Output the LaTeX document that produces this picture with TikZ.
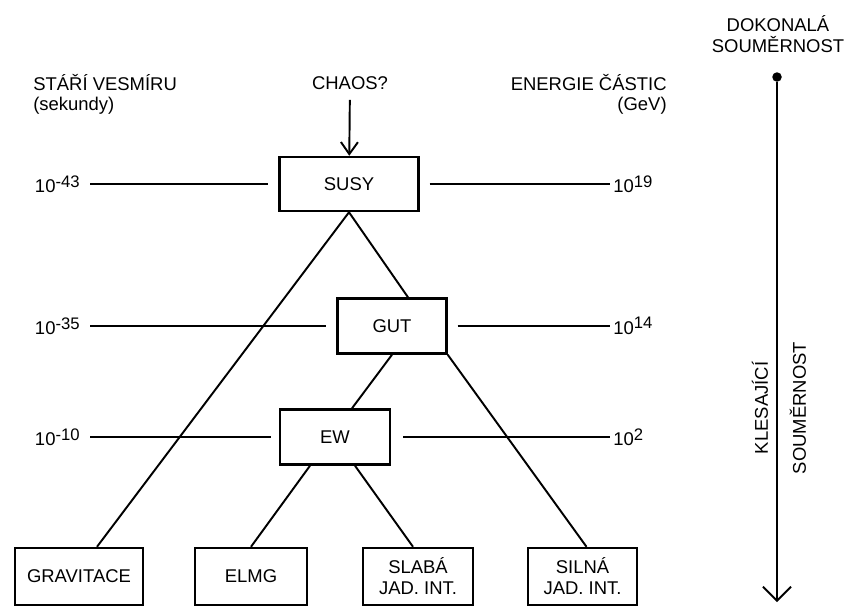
\documentclass[tikz,border=0pt]{standalone}
\usepackage{fontspec}
\setmainfont{Liberation Sans}
\usetikzlibrary{positioning,calc,arrows.meta}

\tikzstyle{forcebox}=[rectangle, draw=black, line width=1.4pt, inner sep=0pt, text centered, align=center, minimum height=11mm]
\tikzstyle{lab}=[inner sep=0pt, align=center]
\tikzstyle{line}=[-, line width=1.1pt]
\tikzstyle{hline}=[-, line width=1.1pt, shorten <=2mm, shorten >=2mm]
\tikzstyle{dot}=[circle, fill=black, inner sep=0pt, minimum size=1.9mm]
\newcommand{\tenpow}[1]{10\raisebox{.55ex}{\fontsize{9.5}{9.5}\selectfont #1}}

\begin{document}
\begin{tikzpicture}[x=0.2mm, y=-0.2mm, font=\fontsize{10.5}{12}\selectfont]
\useasboundingbox (0,0) rectangle (848,605);

% headings
\node (age) [lab, anchor=west] at (33,83) {STÁŘÍ VESMÍRU};
\node (sek) [lab, below=1mm of age.south west, anchor=north west] {(sekundy)};
\node (chaos) [lab] at (350,83) {CHAOS?};
\node (ener) [lab, anchor=east] at (667,83) {ENERGIE ČÁSTIC};
\node (gev) [lab, below=1mm of ener.south east, anchor=north east] {(GeV)};

% unified theories
\node (susy) [forcebox, minimum width=27.8mm, minimum height=10.8mm] at (349,184) {SUSY};
\node (gut) [forcebox, minimum width=21.8mm] at (392,326) {GUT};
\node (ew) [forcebox, minimum width=22mm] at (335,437) {EW};

% the four forces
\node (grav) [forcebox, minimum width=25.6mm, minimum height=11.4mm] at (79,576.5) {GRAVITACE};
\node (elmg) [forcebox, minimum width=22.4mm, minimum height=11.4mm] at (251,576.5) {ELMG};
\node (slaba) [forcebox, minimum width=22mm, minimum height=11.4mm] at (418,576.5) {SLABÁ\\JAD. INT.};
\node (silna) [forcebox, minimum width=21.8mm, minimum height=11.4mm] at (582.5,576.5) {SILNÁ\\JAD. INT.};

% time / energy scale
\node (t43) [lab, anchor=east] at (80,184) {\tenpow{-43}};
\node (t35) [lab, anchor=east] at (80,326) {\tenpow{-35}};
\node (t10) [lab, anchor=east] at (80,437) {\tenpow{-10}};
\node (e19) [lab, anchor=west] at (613,184) {\tenpow{19}};
\node (e14) [lab, anchor=west] at (613,326) {\tenpow{14}};
\node (e2) [lab, anchor=west] at (613,437) {\tenpow{2}};

\draw[hline] (t43.east) -- (susy.west);
\draw[hline, shorten >=0.6mm] (susy.east) -- (e19.west);
\draw[hline] (t35.east) -- (gut.west);
\draw[hline, shorten >=0.6mm] (gut.east) -- (e14.west);
\draw[hline, shorten >=1.6mm] (t10.east) -- (ew.west);
\draw[hline, shorten <=2.4mm, shorten >=0.6mm] (ew.east) -- (e2.west);

% branches
\draw[line, shorten <=2mm, -{Straight Barb[length=2.4mm, width=3.4mm]}] (chaos) -- (susy);
\draw[line] (susy.south) -- ($(grav.north)+(18,0)$);
\draw[line] (susy.south) -- ($(gut.north)+(16,0)$);
\draw[line] (gut.south east) -- ($(silna.north)+(4,0)$);
\draw[line] (gut.south) -- ($(ew.north)+(17,0)$);
\draw[line] ($(ew.south)+(-25,0)$) -- (elmg.north);
\draw[line] ($(ew.south)+(20,0)$) -- ($(slaba.north)+(-5,0)$);

% symmetry axis
\node (dok) [lab] at (778,34) {DOKONALÁ\\SOUMĚRNOST};
\node (perf) [dot] at (777,77) {};
\coordinate (broken) at (777,602);
\draw[line, -{Straight Barb[length=2.8mm, width=5.6mm]}] (perf) -- (broken);
\node (kles) [lab, rotate=90] at (760,408) {KLESAJÍCÍ};
\node (ksoum) [lab, rotate=90] at (798,408) {SOUMĚRNOST};

\end{tikzpicture}
\end{document}
